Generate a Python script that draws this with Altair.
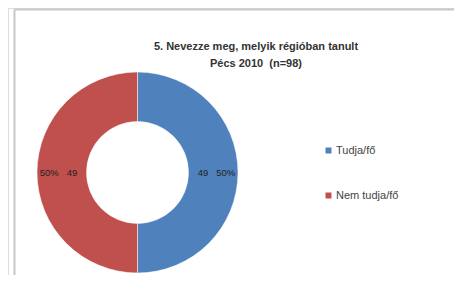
import altair as alt
import pandas as pd

categories = ["Tudja/fő", "Nem tudja/fő"]
counts = [49, 49]
percents = ["50%", "50%"]
slice_labels = ["49\u00a0\u00a0\u00a050%", "50%\u00a0\u00a0\u00a049"]
colors = ["#4F81BD", "#C0504D"]
title_lines = ["5. Nevezze meg, melyik régióban tanult", "Pécs 2010\u00a0\u00a0(n=98)"]

df = pd.DataFrame({
    "cat": categories,
    "n": counts,
    "pct": percents,
    "label": slice_labels,
    "order": list(range(len(categories))),
})

W, H = 446, 267
CX, CY = 129.5, 164.5

color = alt.Color(
    "cat:N",
    scale=alt.Scale(domain=categories, range=colors),
    legend=alt.Legend(
        title=None, orient="none", legendX=315, legendY=137,
        symbolType="square", symbolSize=36, symbolStrokeWidth=0,
        labelFont="Liberation Sans", labelFontSize=11, labelColor="#444",
        rowPadding=33, labelOffset=2,
    ),
)

base = alt.Chart(df)

arcs = base.mark_arc(outerRadius=100.5, innerRadius=51, stroke="#ffffff", strokeWidth=0.5).encode(
    theta=alt.Theta("n:Q", stack=True),
    color=color,
    order=alt.Order("order:Q"),
    x=alt.value(CX), y=alt.value(CY),
)

labels = base.mark_text(font="Liberation Sans", fontSize=9.5, color="#222", radius=79).encode(
    theta=alt.Theta("n:Q", stack=True),
    order=alt.Order("order:Q"),
    text="label:N",
    x=alt.value(CX), y=alt.value(CY),
)

tdf = pd.DataFrame({"t": title_lines, "i": [0, 1]})
title = alt.Chart(tdf).mark_text(font="Liberation Sans", fontSize=11, fontWeight="bold", color="#333").encode(
    text="t:N",
    x=alt.value(248),
    y=alt.Y("i:Q", scale=alt.Scale(domain=[0, 1], range=[39, 56]), axis=None),
)

border_v = alt.Chart(pd.DataFrame({"a": [0]})).mark_rule(color="#c8c8c8", strokeWidth=2).encode(
    x=alt.value(6.5), y=alt.value(1.5), y2=alt.value(H)
)
border_h = alt.Chart(pd.DataFrame({"a": [0]})).mark_rule(color="#c8c8c8", strokeWidth=2).encode(
    x=alt.value(6.5), x2=alt.value(W), y=alt.value(1.5)
)

chart = alt.layer(border_v, border_h, arcs, labels, title).resolve_scale(y="independent").properties(
    width=W, height=H, autosize=alt.AutoSizeParams(type="none"), padding=0
).configure_view(stroke=None).configure(background="white")

chart.save("out.html", embed_options={"renderer": "svg", "actions": False})
